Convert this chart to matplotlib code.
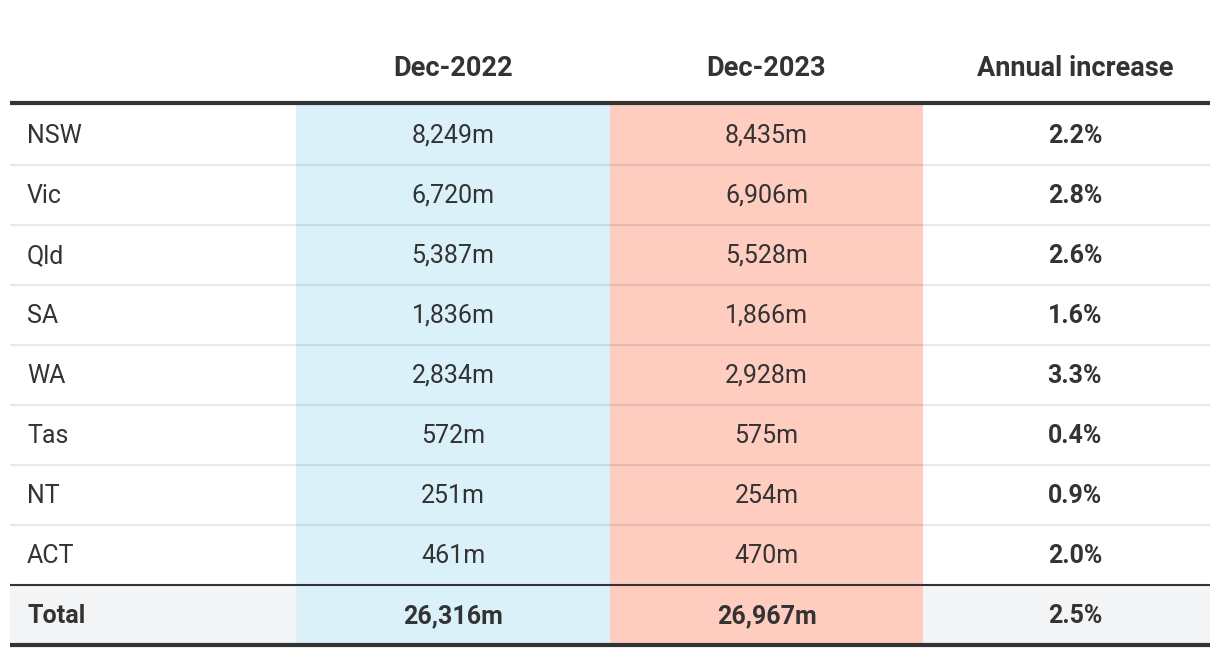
import matplotlib
matplotlib.use("Agg")
import matplotlib.pyplot as plt
from matplotlib.patches import Rectangle

plt.rcParams['font.family'] = ['Roboto', 'DejaVu Sans']

regions = ["NSW", "Vic", "Qld", "SA", "WA", "Tas", "NT", "ACT"]
dec_2022 = [8249, 6720, 5387, 1836, 2834, 572, 251, 461]
dec_2023 = [8435, 6906, 5528, 1866, 2928, 575, 254, 470]
annual_increase = [2.2, 2.8, 2.6, 1.6, 3.3, 0.4, 0.9, 2.0]
total_label = "Total"
total_2022 = 26316
total_2023 = 26967
total_increase = 2.5
headers = ["Dec-2022", "Dec-2023", "Annual increase"]

W, H = 1220, 658
fig = plt.figure(figsize=(W / 100, H / 100), dpi=100)
ax = fig.add_axes([0, 0, 1, 1])
ax.set_xlim(0, W)
ax.set_ylim(H, 0)
ax.axis("off")

TXT = "#333333"
BLUE = "#dbf1fa"
RED = "#fecdc0"
GREY_BG = "#f3f4f6"

x0, x1 = 10, 1210
col_b = (296, 610)
col_r = (610, 923)
header_y = 68
header_line = 103
row_h = 60
first_top = 105
total_top = 585
bottom_line = 645

ax.add_patch(Rectangle((x0, total_top), x1 - x0, bottom_line - total_top, color=GREY_BG, zorder=0, lw=0))
ax.add_patch(Rectangle((col_b[0], header_line), col_b[1] - col_b[0], bottom_line - header_line, color=BLUE, zorder=1, lw=0))
ax.add_patch(Rectangle((col_r[0], header_line), col_r[1] - col_r[0], bottom_line - header_line, color=RED, zorder=1, lw=0))

fs = 18
hfs = 19.5
c_label = 27
c_b = (col_b[0] + col_b[1]) / 2
c_r = (col_r[0] + col_r[1]) / 2
c_inc = 1075

ax.text(c_b, header_y, headers[0], ha="center", va="center", fontsize=hfs, fontweight="bold", color=TXT)
ax.text(c_r, header_y, headers[1], ha="center", va="center", fontsize=hfs, fontweight="bold", color=TXT)
ax.text(c_inc, header_y, headers[2], ha="center", va="center", fontsize=hfs, fontweight="bold", color=TXT)

for i, (reg, a, b, inc) in enumerate(zip(regions, dec_2022, dec_2023, annual_increase)):
    top = first_top + i * row_h
    cy = top + row_h / 2 + 1
    ax.text(c_label, cy, reg, ha="left", va="center", fontsize=fs, color=TXT)
    ax.text(c_b, cy, f"{a:,}m", ha="center", va="center", fontsize=fs, color=TXT)
    ax.text(c_r, cy, f"{b:,}m", ha="center", va="center", fontsize=fs, color=TXT)
    ax.text(c_inc, cy, f"{inc:.1f}%", ha="center", va="center", fontsize=fs, fontweight="bold", color=TXT)
    if i < len(regions) - 1:
        ax.plot([x0, x1], [top + row_h, top + row_h], color="black", alpha=0.09, lw=1.5, zorder=2, solid_capstyle="butt")

cy = total_top + (bottom_line - total_top) / 2 + 1
ax.text(c_label, cy, total_label, ha="left", va="center", fontsize=fs, fontweight="bold", color=TXT)
ax.text(c_b, cy, f"{total_2022:,}m", ha="center", va="center", fontsize=fs, fontweight="bold", color=TXT)
ax.text(c_r, cy, f"{total_2023:,}m", ha="center", va="center", fontsize=fs, fontweight="bold", color=TXT)
ax.text(c_inc, cy, f"{total_increase:.1f}%", ha="center", va="center", fontsize=fs, fontweight="bold", color=TXT)

ax.plot([x0, x1], [header_line, header_line], color=TXT, lw=3, zorder=3, solid_capstyle="butt")
ax.plot([x0, x1], [total_top, total_top], color=TXT, lw=1.5, zorder=3, solid_capstyle="butt")
ax.plot([x0, x1], [bottom_line, bottom_line], color=TXT, lw=3, zorder=3, solid_capstyle="butt")

fig.savefig("out.png", dpi=100, facecolor="white")
